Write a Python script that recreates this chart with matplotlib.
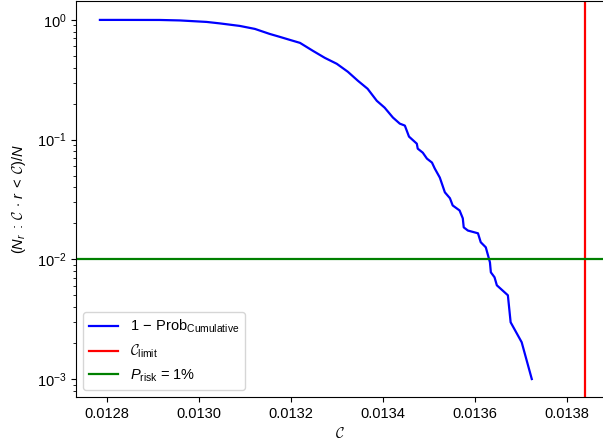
"""Tail probability of the capacity ratio against the limit and the 1% risk level."""

import matplotlib

matplotlib.use("Agg")
import matplotlib.pyplot as plt

plt.rcParams["font.family"] = ["Liberation Sans", "DejaVu Sans"]
plt.rcParams["font.size"] = 10.5
plt.rcParams["mathtext.fontset"] = "custom"
plt.rcParams["mathtext.rm"] = "Liberation Sans"
plt.rcParams["mathtext.it"] = "Liberation Sans:italic"
plt.rcParams["mathtext.bf"] = "Liberation Sans:bold"
plt.rcParams["mathtext.cal"] = "cmsy10"

# 1 - cumulative probability
c_values = [
    0.012785, 0.012828, 0.012915, 0.012959, 0.013017, 0.013046, 0.013089,
    0.013122, 0.013154, 0.013176, 0.013198, 0.013220, 0.013248, 0.013274,
    0.013300, 0.013324, 0.013346, 0.013367, 0.013387, 0.013404, 0.013422,
    0.013437, 0.013448, 0.013457, 0.013474, 0.013476, 0.013487, 0.013496,
    0.013507, 0.013513, 0.013524, 0.013530, 0.013535, 0.013546, 0.013552,
    0.013567, 0.013574, 0.013576, 0.013585, 0.013607, 0.013613, 0.013624,
    0.013630, 0.013633, 0.013635, 0.013643, 0.013648, 0.013672, 0.013678,
    0.013702, 0.013724,
]
tail_prob = [
    1.0, 1.0, 0.999, 0.990, 0.962, 0.935, 0.891,
    0.841, 0.764, 0.722, 0.681, 0.643, 0.552, 0.482,
    0.430, 0.369, 0.310, 0.266, 0.211, 0.185, 0.153,
    0.136, 0.131, 0.106, 0.0925, 0.0841, 0.0778, 0.0694,
    0.0643, 0.0574, 0.0482, 0.0413, 0.0363, 0.0324, 0.0282,
    0.0256, 0.0220, 0.0185, 0.0174, 0.0165, 0.0139, 0.0126,
    0.0104, 0.00944, 0.00779, 0.00708, 0.00607, 0.00501, 0.00298,
    0.00203, 0.001,
]
c_limit = 0.013839
p_risk = 0.01

fig = plt.figure(figsize=(6.03, 4.42), dpi=100)
ax = fig.add_axes([76 / 603, 45 / 442, 528 / 603, 396 / 442])

ax.plot(c_values, tail_prob, color="blue", lw=1.6,
        label=r"$1\,-\,\mathrm{Prob}_{\mathrm{Cumulative}}$")
ax.axvline(c_limit, color="red", lw=1.6, label=r"$\mathcal{C}_{\mathrm{limit}}$")
ax.axhline(p_risk, color="green", lw=1.6, label=r"$P_{\mathrm{risk}}$ = 1%")

ax.set_yscale("log")
ax.set_xlim(0.012733, 0.013881)
ax.set_ylim(10 ** -3.15, 10 ** 0.158)
ax.set_xticks([0.0128, 0.0130, 0.0132, 0.0134, 0.0136, 0.0138])
ax.set_xticklabels(["0.0128", "0.0130", "0.0132", "0.0134", "0.0136", "0.0138"])
ax.set_xlabel(r"$\mathcal{C}$")
ax.set_ylabel(r"$(N_r\;:\;\mathcal{C}\,\cdot\,r\;<\;\mathcal{C})/N$", labelpad=6)
ax.legend(loc="lower left")

fig.savefig("out.png", dpi=100)
